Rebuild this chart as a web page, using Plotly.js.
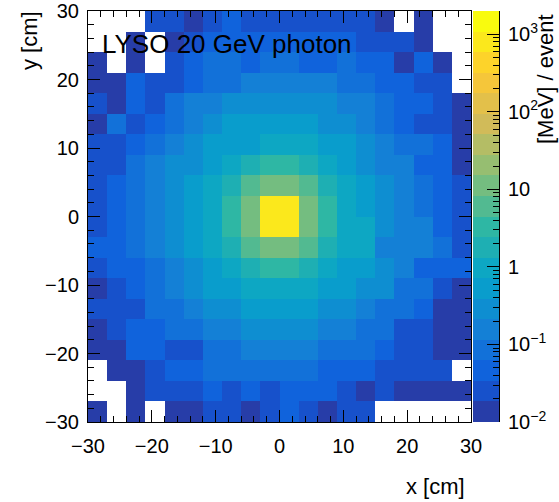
<!DOCTYPE html>
<html>
<head>
<meta charset="utf-8">
<script src="https://cdn.plot.ly/plotly-3.0.1.min.js"></script>
<style>html,body{margin:0;padding:0;background:#fff}#chart{width:559px;height:502px}</style>
</head>
<body>
<div id="chart"></div>
<script>
// bin centres (cm)
const xBins = [-28.5,-25.5,-22.5,-19.5,-16.5,-13.5,-10.5,-7.5,-4.5,-1.5,1.5,4.5,7.5,10.5,13.5,16.5,19.5,22.5,25.5,28.5];
const yBins = [28.5,25.5,22.5,19.5,16.5,13.5,10.5,7.5,4.5,1.5,-1.5,-4.5,-7.5,-10.5,-13.5,-16.5,-19.5,-22.5,-25.5,-28.5];
// energy deposit [MeV]/event, rows from top (y=+28.5) to bottom (y=-28.5); null = empty bin
const n = null;
const edep = [
 [n,n,n,0.025,0.022,0.014,0.026,0.046,0.024,0.027, 0.025,0.023,0.026,0.024,0.025,0.013,n,0.014,n,n],
 [n,n,0.013,n,0.014,0.026,0.045,0.048,0.044,0.046, 0.047,0.043,0.045,0.042,0.027,0.024,0.026,0.013,n,n],
 [0.014,n,0.013,n,0.025,0.046,0.082,0.088,0.047,0.084, 0.087,0.046,0.044,0.083,0.045,0.043,0.013,0.046,0.014,n],
 [0.013,0.014,0.044,0.026,0.024,0.048,0.086,0.09,0.16,0.15, 0.16,0.15,0.14,0.088,0.082,0.046,0.044,0.025,0.024,n],
 [0.026,0.013,0.046,0.025,0.085,0.15,0.17,0.28,0.3,0.29, 0.31,0.28,0.27,0.16,0.15,0.085,0.045,0.043,0.024,0.013],
 [0.014,0.088,0.025,0.047,0.09,0.16,0.3,0.52,0.55,0.54, 0.56,0.5,0.29,0.27,0.15,0.086,0.047,0.025,0.026,0.014],
 [0.024,0.026,0.045,0.087,0.16,0.3,0.5,0.55,0.58,0.95, 1.0,0.9,0.53,0.5,0.28,0.16,0.084,0.08,0.046,0.013],
 [0.025,0.027,0.085,0.15,0.28,0.31,0.55,0.97,1.8,3.2, 3.3,1.7,0.95,0.52,0.3,0.16,0.15,0.045,0.044,0.014],
 [0.026,0.046,0.088,0.16,0.3,0.52,0.95,1.9,6.0,11.5, 11.0,6.2,1.8,0.92,0.53,0.29,0.16,0.086,0.046,0.025],
 [0.027,0.045,0.084,0.15,0.29,0.55,1.0,3.4,11.2,830, 860,11.4,3.3,0.96,0.55,0.3,0.15,0.083,0.045,0.026],
 [0.025,0.047,0.087,0.16,0.31,0.54,0.98,3.3,11.0,870, 820,11.1,3.2,1.0,0.9,0.28,0.16,0.14,0.046,0.024],
 [0.046,0.044,0.083,0.15,0.29,0.52,0.93,1.8,6.1,11.3, 11.6,5.9,1.9,0.97,0.88,0.16,0.15,0.15,0.085,0.026],
 [0.026,0.045,0.047,0.086,0.16,0.3,0.53,0.94,1.7,3.3, 3.4,1.8,0.92,0.54,0.5,0.29,0.16,0.045,0.043,0.047],
 [0.014,0.025,0.046,0.084,0.15,0.28,0.5,0.55,0.9,0.95, 0.97,0.93,0.52,0.5,0.3,0.27,0.085,0.082,0.025,0.013],
 [0.026,0.024,0.027,0.082,0.086,0.16,0.28,0.3,0.53,0.5, 0.52,0.5,0.29,0.28,0.15,0.088,0.083,0.046,0.014,0.013],
 [0.013,0.025,0.045,0.046,0.085,0.09,0.16,0.15,0.29,0.3, 0.3,0.28,0.16,0.15,0.085,0.082,0.026,0.024,0.014,0.013],
 [0.014,0.013,0.046,0.044,0.026,0.025,0.086,0.088,0.15,0.16, 0.16,0.14,0.087,0.084,0.08,0.046,0.025,0.026,0.013,0.014],
 [n,0.014,0.013,0.025,0.045,0.047,0.085,0.082,0.088,0.084, 0.086,0.083,0.046,0.045,0.044,0.026,0.024,0.025,0.026,n],
 [n,n,0.013,0.026,0.024,0.025,0.046,0.027,0.045,0.026, 0.047,0.044,0.046,0.025,0.014,0.026,0.013,0.014,0.013,0.014],
 [0.014,n,0.013,n,0.014,0.013,0.026,0.025,0.014,0.027, 0.045,0.025,0.013,0.026,0.024,n,n,n,n,n]
];
const xLabel = "x [cm]";
const yLabel = "y [cm]";
const zLabel = "[MeV] / event";
const plotText = "LYSO 20 GeV photon";
const zLogMin = -2, zLogMax = 3.3, nContours = 20;
const zTickVals = [-2,-1,0,1,2,3];
const zTickText = ["10<sup>\u22122</sup>","10<sup>\u22121</sup>","1","10","10<sup>2</sup>","10<sup>3</sup>"];

// ROOT kBird palette
const st=[0,0.125,0.25,0.375,0.5,0.625,0.75,0.875,1];
const R=[0.2082,0.0592,0.0780,0.0232,0.1802,0.5301,0.8186,0.9956,0.9764];
const G=[0.1664,0.3599,0.5041,0.6419,0.7178,0.7492,0.7328,0.7862,0.9832];
const B=[0.5293,0.8684,0.8385,0.7914,0.6425,0.4662,0.3499,0.1968,0.0539];
function bird(f){
  let k=0; while(k<st.length-2 && f>st[k+1]) k++;
  const t=(f-st[k])/(st[k+1]-st[k]);
  const c=a=>Math.round(255*(a[k]+(a[k+1]-a[k])*t));
  return 'rgb('+c(R)+','+c(G)+','+c(B)+')';
}
const cs=[];
const bandCenters=[], bandZ=[];
const step=(zLogMax-zLogMin)/nContours;
for(let i=0;i<nContours;i++){
  const col=bird(Math.floor((i+0.99)*255/nContours)/254);
  cs.push([i/nContours,col]); cs.push([(i+1)/nContours,col]);
  bandCenters.push(zLogMin+step*(i+0.5)); bandZ.push([zLogMin+step*(i+0.5)]);
}
const zlog = edep.map(r=>r.map(v=>v===null?null:Math.log10(v)));
const minorVals=[];
for(let d=-2; d<=3; d++) for(let k=2;k<=9;k++){const v=d+Math.log10(k); if(v<zLogMax) minorVals.push(v);}

const font='"Liberation Sans", Arial, Helvetica, sans-serif';
const L=88, Rm=60, T=11, Bm=80, W=559, H=502;
const pw=W-L-Rm, ph=H-T-Bm;
const px=x=>(x-L)/pw, py=y=>(H-Bm-y)/ph;

const traces=[
 {type:'heatmap', x:xBins, y:yBins, z:zlog, zmin:zLogMin, zmax:zLogMax, colorscale:cs, showscale:false, hoverinfo:'skip', xaxis:'x', yaxis:'y'},
 {type:'heatmap', x:[0], y:bandCenters, z:bandZ, zmin:zLogMin, zmax:zLogMax, colorscale:cs, showscale:false, hoverinfo:'skip', xaxis:'x2', yaxis:'y2'}
];
const axBase={showgrid:false, zeroline:false, showline:true, linecolor:'#000', linewidth:1, mirror:'ticks', ticks:'inside', tickcolor:'#000', tickwidth:1, tickfont:{family:font,size:20,color:'#000'}};
const layout={
 width:W, height:H, margin:{l:L,r:Rm,t:T,b:Bm}, paper_bgcolor:'#fff', plot_bgcolor:'#fff', showlegend:false,
 xaxis:Object.assign({},axBase,{domain:[0,px(471)], range:[-30,30], tickmode:'linear', tick0:-30, dtick:10, ticklen:12, minor:{ticks:'inside', dtick:2, tick0:-30, ticklen:6, tickcolor:'#000'}, ticklabelstandoff:6, anchor:'y'}),
 yaxis:Object.assign({},axBase,{domain:[0,1], range:[-30,30], tickmode:'linear', tick0:-30, dtick:10, ticklen:12, minor:{ticks:'inside', dtick:2, tick0:-30, ticklen:6, tickcolor:'#000'}, ticklabelstandoff:4, anchor:'x'}),
 xaxis2:{domain:[px(473),px(499.5)], range:[-0.5,0.5], showticklabels:false, ticks:'', showgrid:false, zeroline:false, showline:false, anchor:'y2'},
 yaxis2:{domain:[0,1], range:[zLogMin,zLogMax], anchor:'x2', side:'right', showgrid:false, zeroline:false, showline:true, linecolor:'#000', linewidth:1,
   ticks:'inside', ticklen:12, tickcolor:'#000', tickmode:'array', tickvals:zTickVals, ticktext:zTickText, tickfont:{family:font,size:20,color:'#000'},
   minor:{ticks:'inside', tickmode:'array', tickvals:minorVals, ticklen:6, tickcolor:'#000'}, ticklabelstandoff:4},
 annotations:[
  {text:plotText, xref:'paper', yref:'paper', x:px(100), y:py(44), xanchor:'left', yanchor:'middle', showarrow:false, font:{family:font,size:26,color:'#000'}},
  {text:xLabel, xref:'paper', yref:'paper', x:px(467), y:py(487), xanchor:'right', yanchor:'middle', showarrow:false, font:{family:font,size:22,color:'#000'}},
  {text:yLabel, xref:'paper', yref:'paper', x:px(29), y:py(41), xanchor:'center', yanchor:'middle', textangle:-90, showarrow:false, font:{family:font,size:22,color:'#000'}},
  {text:zLabel, xref:'paper', yref:'paper', x:px(545), y:py(79), xanchor:'center', yanchor:'middle', textangle:-90, showarrow:false, font:{family:font,size:22,color:'#000'}}
 ]
};
Plotly.newPlot('chart', traces, layout, {staticPlot:true, displayModeBar:false});
</script>
</body>
</html>
